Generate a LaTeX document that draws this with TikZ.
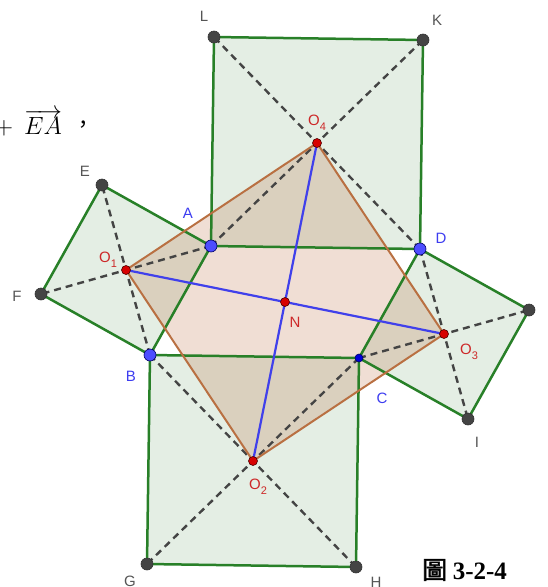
\documentclass[tikz,border=0pt]{standalone}
\usepackage{fontspec}
\newfontfamily\lblfont{Liberation Sans}
\newfontfamily\capfont{Liberation Serif}
\newfontfamily\cjk[AutoFakeBold=2]{Noto Sans CJK TC}
\usetikzlibrary{calc}
\definecolor{sqgreen}{RGB}{40,128,40}
\definecolor{sqfill}{RGB}{228,238,228}
\definecolor{quadbrown}{RGB}{185,112,66}
\definecolor{quadfill}{RGB}{180,90,40}
\definecolor{diagblue}{RGB}{64,64,235}
\definecolor{ptgrey}{RGB}{68,68,68}
\definecolor{lblgrey}{RGB}{85,85,85}
\definecolor{ptblue}{RGB}{77,77,255}
\definecolor{lblblue}{RGB}{60,60,240}
\definecolor{ptred}{RGB}{215,0,0}
\definecolor{lblred}{RGB}{205,40,40}
\tikzset{
    sqface/.style={fill=sqfill},
    sqedge/.style={draw=sqgreen, line width=2.5pt, line join=round},
    quadface/.style={fill=quadfill, fill opacity=0.2},
    quadedge/.style={draw=quadbrown, line width=2pt, line join=round},
    diag/.style={draw=ptgrey, line width=2.4pt, dash pattern=on 7pt off 5pt},
    midline/.style={draw=diagblue, line width=2.2pt},
    greypt/.style={circle, fill=ptgrey, draw=black!80, line width=0.6pt, minimum size=12pt, inner sep=0pt},
    bluept/.style={circle, fill=ptblue, draw=blue!40!black, line width=0.6pt, minimum size=12pt, inner sep=0pt},
    smallbluept/.style={bluept, fill=blue!85!black, minimum size=8pt},
    redpt/.style={circle, fill=ptred, draw=red!30!black, line width=0.6pt, minimum size=9pt, inner sep=0pt},
    greylbl/.style={text=lblgrey, font=\lblfont\fontsize{15}{15}\selectfont, inner sep=0pt},
    bluelbl/.style={greylbl, text=lblblue},
    redlbl/.style={greylbl, text=lblred}
}
\newcommand{\Osub}[1]{O\raisebox{-0.35em}{\fontsize{11}{11}\selectfont #1}}

\begin{document}
\begin{tikzpicture}[x=1pt, y=-1pt]
    \useasboundingbox (0,0) rectangle (547,587);

    % Parallelogram ABCD
    \coordinate (A) at (211,246);
    \coordinate (B) at (150,355);
    \coordinate (D) at (420,249);
    \coordinate (C) at ($(B)+(D)-(A)$);

    % Squares on the four sides
    \coordinate (L) at ($(A)!1!90:(D)$);
    \coordinate (K) at ($(D)!1!-90:(A)$);
    \coordinate (E) at ($(A)!1!-90:(B)$);
    \coordinate (F) at ($(B)!1!90:(A)$);
    \coordinate (G) at ($(B)!1!-90:(C)$);
    \coordinate (H) at ($(C)!1!90:(B)$);
    \coordinate (J) at ($(D)!1!90:(C)$);
    \coordinate (I) at ($(C)!1!-90:(D)$);

    % Centres
    \coordinate (O1) at ($(A)!0.5!(F)$);
    \coordinate (O2) at ($(B)!0.5!(H)$);
    \coordinate (O3) at ($(C)!0.5!(J)$);
    \coordinate (O4) at ($(A)!0.5!(K)$);
    \coordinate (N) at ($(A)!0.5!(C)$);

    % Faces
    \fill[sqface] (A) -- (D) -- (K) -- (L) -- cycle
                  (A) -- (B) -- (F) -- (E) -- cycle
                  (B) -- (C) -- (H) -- (G) -- cycle
                  (C) -- (D) -- (J) -- (I) -- cycle;
    \fill[quadface] (O1) -- (O4) -- (O3) -- (O2) -- cycle;

    % Diagonals of the squares
    \foreach \p/\q in {A/K, D/L, A/F, B/E, B/H, C/G, C/J, D/I}
        \draw[diag] (\p) -- (\q);

    % Edges
    \draw[sqedge] (A) -- (D) -- (K) -- (L) -- cycle;
    \draw[sqedge] (A) -- (B) -- (F) -- (E) -- cycle;
    \draw[sqedge] (B) -- (C) -- (H) -- (G) -- cycle;
    \draw[sqedge] (C) -- (D) -- (J) -- (I) -- cycle;
    \draw[quadedge] (O1) -- (O4) -- (O3) -- (O2) -- cycle;
    \draw[midline] (O1) -- (O3);
    \draw[midline] (O4) -- (O2);

    % Points
    \foreach \p in {L,K,E,F,G,H,I,J}
        \node[greypt] (pt\p) at (\p) {};
    \foreach \p in {A,B,D}
        \node[bluept] (pt\p) at (\p) {};
    \node[smallbluept] (ptC) at (C) {};
    \foreach \p in {O1,O2,O3,O4,N}
        \node[redpt] (pt\p) at (\p) {};

    % Labels
    \node[greylbl] (lL) at ($(L)+(-10,-21)$) {L};
    \node[greylbl] (lK) at ($(K)+(14,-20)$) {K};
    \node[greylbl] (lE) at ($(E)+(-17,-14)$) {E};
    \node[greylbl] (lF) at ($(F)+(-24,2)$) {F};
    \node[greylbl] (lG) at ($(G)+(-17,17)$) {G};
    \node[greylbl] (lH) at ($(H)+(20,15)$) {H};
    \node[greylbl] (lI) at ($(I)+(9,23)$) {I};
    \node[greylbl] (lJ) at ($(J)+(25,9)$) {J};
    \node[bluelbl] (lA) at ($(A)+(-23,-33)$) {A};
    \node[bluelbl] (lB) at ($(B)+(-19,21)$) {B};
    \node[bluelbl] (lC) at ($(C)+(23,40)$) {C};
    \node[bluelbl] (lD) at ($(D)+(21,-11)$) {D};
    \node[redlbl] (lO1) at ($(O1)+(-18,-10)$) {\Osub{1}};
    \node[redlbl] (lO2) at ($(O2)+(5,26)$) {\Osub{2}};
    \node[redlbl] (lO3) at ($(O3)+(25,18)$) {\Osub{3}};
    \node[redlbl] (lO4) at ($(O4)+(0,-20)$) {\Osub{4}};
    \node[redlbl] (lN) at ($(N)+(10,20)$) {N};

    % Text fragments
    \node[anchor=base west, inner sep=0pt, font=\fontsize{24.88}{26}\selectfont] (sumtail) at (-5,134) {$+\mkern8mu\overrightarrow{EA}$};
    \node[anchor=west, inner sep=0pt, font=\cjk\fontsize{22}{22}\selectfont] (comma) at (72,127) {，};
    \node[anchor=base west, inner sep=0pt, font=\fontsize{25}{25}\selectfont] (caption) at (422,579) {\cjk\bfseries 圖 \capfont\bfseries 3-2-4};

\end{tikzpicture}
\end{document}
